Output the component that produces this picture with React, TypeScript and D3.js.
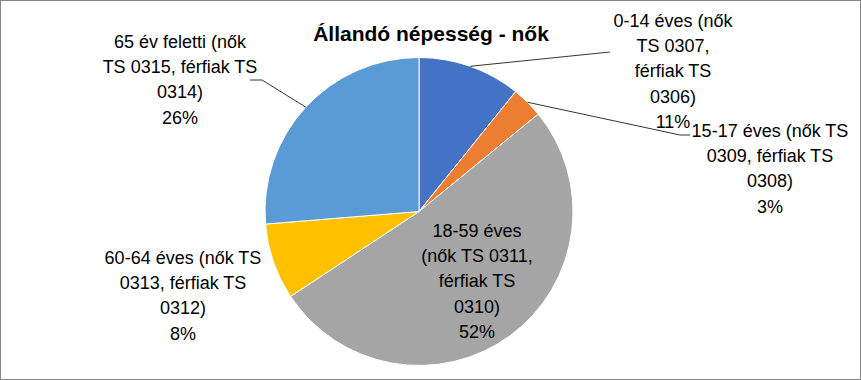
import React from "react";
import * as d3 from "d3";

const title = "Állandó népesség - nők";
const categories = [
  "0-14 éves (nők TS 0307, férfiak TS 0306)",
  "15-17 éves (nők TS 0309, férfiak TS 0308)",
  "18-59 éves (nők TS 0311, férfiak TS 0310)",
  "60-64 éves (nők TS 0313, férfiak TS 0312)",
  "65 év feletti (nők TS 0315, férfiak TS 0314)",
];
const values = [10.8, 3.3, 51.6, 8.0, 26.3];
const labelLines = [
  ["0-14 éves (nők", "TS 0307,", "férfiak TS", "0306)"],
  ["15-17 éves (nők TS", "0309, férfiak TS", "0308)"],
  ["18-59 éves", "(nők TS 0311,", "férfiak TS", "0310)"],
  ["60-64 éves (nők TS", "0313, férfiak TS", "0312)"],
  ["65 év feletti (nők", "TS 0315, férfiak TS", "0314)"],
];
const colors = ["#4472C4", "#ED7D31", "#A5A5A5", "#FFC000", "#5B9BD5"];

// layout: label block centre x, first baseline y, leader end point (null = no leader)
const labelLayout = [
  { x: 673, y: 27, leader: [610, 52] as [number, number] | null, hook: 0 },
  { x: 770, y: 137, leader: [680, 135] as [number, number] | null, hook: 10 },
  { x: 477, y: 237, leader: null, hook: 0 },
  { x: 183, y: 264, leader: null, hook: 0 },
  { x: 180, y: 48, leader: [262, 80] as [number, number] | null, hook: -12 },
];

const W = 861;
const H = 380;
const cx = 419;
const cy = 211.5;
const R = 154;
const lineH = 25.2;

export default function App() {
  const total = d3.sum(values);
  const pie = d3.pie<number>().sort(null).value((d) => d);
  const arcs = pie(values);
  const arc = d3.arc<d3.PieArcDatum<number>>().innerRadius(0).outerRadius(R);
  const edge = d3.arc<d3.PieArcDatum<number>>().innerRadius(R).outerRadius(R);
  const pct = d3.format(".0%");

  return (
    <svg
      width={W}
      height={H}
      style={{ position: "absolute", left: 0, top: 0, background: "#fff" }}
      fontFamily="'Liberation Sans', Arial, sans-serif"
    >
      <rect x={0.5} y={0.5} width={W - 1} height={H - 1} fill="#fff" stroke="#868686" strokeWidth={1} />
      <text x={431} y={41} textAnchor="middle" fontSize={21} fontWeight="bold" fill="#000">
        {title}
      </text>
      <g transform={`translate(${cx},${cy})`}>
        {arcs.map((a, i) => (
          <path key={categories[i]} d={arc(a) ?? ""} fill={colors[i]} stroke="#fff" strokeWidth={1} />
        ))}
      </g>
      {arcs.map((a, i) => {
        const lay = labelLayout[i];
        if (!lay.leader) return null;
        const [ex, ey] = edge.centroid(a);
        const [lx, ly] = lay.leader;
        const pts: [number, number][] = [[cx + ex, cy + ey], [lx, ly]];
        if (lay.hook) pts.push([lx + lay.hook, ly]);
        return (
          <path key={"l" + i} d={d3.line()(pts) ?? ""} fill="none" stroke="#000" strokeWidth={0.8} />
        );
      })}
      {arcs.map((a, i) => {
        const lay = labelLayout[i];
        const lines = [...labelLines[i], pct(values[i] / total)];
        return (
          <text key={"t" + i} textAnchor="middle" fontSize={18} fill="#000">
            {lines.map((ln, j) => (
              <tspan key={j} x={lay.x} y={lay.y + j * lineH}>
                {ln}
              </tspan>
            ))}
          </text>
        );
      })}
    </svg>
  );
}
